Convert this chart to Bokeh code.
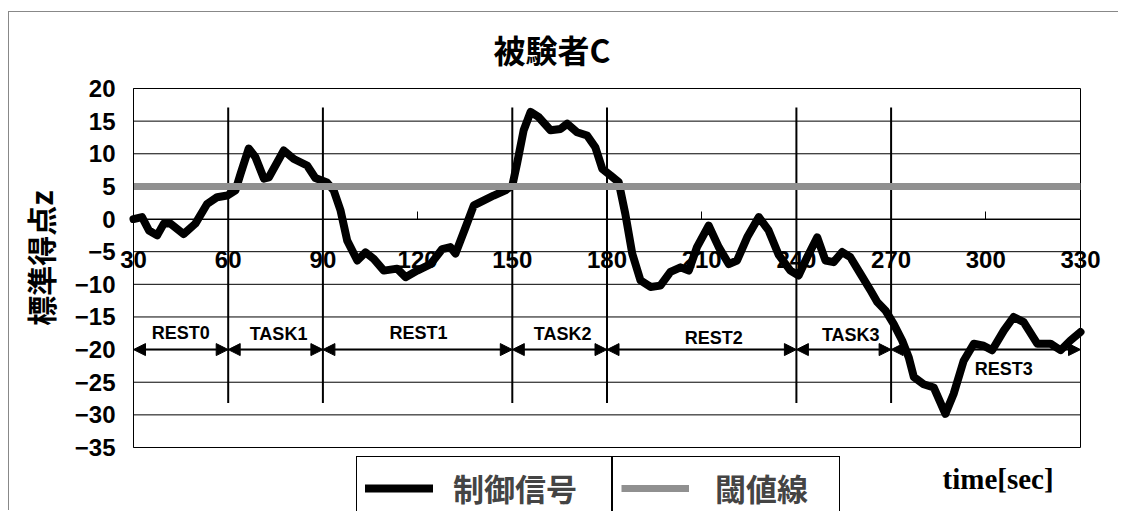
import math
from bokeh.plotting import figure
from bokeh.models import (FixedTicker, LinearAxis, Label, Legend, LegendItem,
                          Arrow, NormalHead, ColumnDataSource)
from bokeh.core.properties import value
from bokeh.embed import file_html
from bokeh.resources import INLINE

# ---------------- data ----------------
time_sec = [30, 32.7, 34.9, 37.5, 39.6, 41.7, 45.9, 49.6, 53.3, 56.5, 59.7, 62.3, 63.9,
            66.5, 68.6, 71.3, 72.9, 77.6, 80.8, 85.0, 87.6, 91.3, 93.4, 95.6, 97.7,
            100.9, 103.5, 106.1, 109.3, 113.5, 116.2, 119.9, 124.1, 127.8, 130.4, 132.0,
            135.2, 137.8, 141.0, 144.1, 147.8, 150.0, 151.5, 153.6, 155.8, 158.4, 162.1,
            165.3, 167.4, 170.5, 173.7, 176.3, 178.5, 181.1, 183.7, 185.8, 188.0, 190.6,
            193.8, 196.9, 200.1, 203.3, 205.9, 208.5, 212.2, 215.4, 218.6, 221.2, 224.4,
            228.1, 231.2, 234.4, 238.1, 240.7, 243.4, 246.6, 249.2, 251.8, 254.5, 257.1,
            260.3, 263.5, 265.6, 268.2, 270.8, 273.5, 275.6, 277.2, 280.3, 283.5, 287.2,
            289.8, 293.0, 296.2, 299.3, 302.0, 305.7, 308.8, 312.0, 316.3, 320.5, 323.7,
            326.8, 330]
control_signal = [0, 0.3, -1.75, -2.5, -0.7, -0.7, -2.3, -0.7, 2.3, 3.35, 3.6, 4.4, 6.9,
                  10.8, 9.5, 6.2, 6.4, 10.5, 9.2, 8.2, 6.3, 5.6, 4.4, 1.3, -3.3,
                  -6.35, -5.1, -6.1, -7.9, -7.6, -8.9, -7.9, -6.9, -4.6, -4.3, -5.3,
                  -1.25, 2.1, 2.85, 3.6, 4.4, 5.1, 8.5, 13.6, 16.4, 15.6, 13.6,
                  13.8, 14.6, 13.3, 12.8, 11.0, 7.7, 6.7, 5.65, 0.8, -5.3, -9.4,
                  -10.4, -10.2, -8.1, -7.4, -7.9, -4.3, -1.0, -4.3, -6.9, -6.35, -2.8,
                  0.3, -1.75, -5.5, -7.9, -8.65, -5.85, -2.8, -6.35, -6.6, -5.05, -5.85,
                  -8.4, -10.95, -12.7, -14.0, -16.05, -18.6, -21.2, -24.2, -25.3, -25.8, -29.85,
                  -26.8, -21.7, -19.1, -19.4, -20.1, -17.1, -15.0, -15.8, -19.1, -19.1, -20.1,
                  -18.6, -17.3]
threshold = 5

phase_names = ["REST0", "TASK1", "REST1", "TASK2", "REST2", "TASK3", "REST3"]
phase_start = [30, 60, 90, 150, 180, 240, 270]
phase_end = [60, 90, 150, 180, 240, 270, 330]
boundaries = [60, 90, 150, 180, 240, 270]

x_ticks = [30, 60, 90, 120, 150, 180, 210, 240, 270, 300, 330]
y_ticks = [-35, -30, -25, -20, -15, -10, -5, 0, 5, 10, 15, 20]

title_text = "被験者C"
y_title = "標準得点z"
x_title = "time[sec]"
legend_labels = ["制御信号", "閾値線"]

# ---------------- layout maths (pixel targets of the plot box) ----------------
W, H = 1110, 499            # canvas size
OX, OY = 9, 12              # canvas origin on the page (margin + border)
PX0, PX1 = 133 - OX, 1080 - OX   # x=30 / x=330 on canvas
PY0, PY1 = 88 - OY, 447 - OY     # y=20 / y=-35 on canvas
xmin, xmax = x_ticks[0], x_ticks[-1]
ymin, ymax = y_ticks[0], y_ticks[-1]
sx = (PX1 - PX0) / (xmax - xmin)
sy = (PY1 - PY0) / (ymax - ymin)
x_range = (xmin - PX0 / sx, xmax + (W - PX1) / sx)
y_range = (ymin - (H - PY1) / sy, ymax + PY0 / sy)

BOLD_NUM = "Liberation Sans"
CJK = "Noto Sans CJK JP"

p = figure(width=W, height=H, x_range=x_range, y_range=y_range,
           output_backend="svg", toolbar_location=None,
           x_axis_location=None, y_axis_location=None, min_border=0)
p.styles = {"margin-left": "8px", "margin-top": "11px",
            "border-top": "1px solid #888", "border-left": "1px solid #888"}
p.outline_line_color = None
p.xgrid.visible = False
p.ygrid.visible = False

# horizontal grid lines + plot box
p.segment(x0=xmin, x1=xmax, y0=y_ticks, y1=y_ticks, line_color="black", line_width=1)
p.segment(x0=[xmin, xmax], x1=[xmin, xmax], y0=ymin, y1=ymax, line_color="black", line_width=1)

# y axis at x=30
ya = LinearAxis(fixed_location=xmin, bounds=(ymin, ymax), ticker=FixedTicker(ticks=y_ticks),
                major_tick_in=0, major_tick_out=0, minor_tick_in=0, minor_tick_out=0,
                major_label_standoff=18, major_label_text_font=BOLD_NUM,
                major_label_text_font_style="bold", major_label_text_font_size="24px",
                major_label_text_color="black", axis_line_color="black")
ya.major_label_overrides = {t: (("\u2212" + str(abs(t))) if t < 0 else str(t)) for t in y_ticks}
p.add_layout(ya, "left")

# x axis crossing at 0
xa = LinearAxis(fixed_location=0, bounds=(xmin, xmax), ticker=FixedTicker(ticks=x_ticks),
                major_tick_in=8, major_tick_out=0, minor_tick_in=0, minor_tick_out=0,
                major_label_standoff=32, major_label_text_font=BOLD_NUM,
                major_label_text_font_style="bold", major_label_text_font_size="24px",
                major_label_text_color="black", axis_line_color="black")
p.add_layout(xa, "below")

# phase boundaries
p.segment(x0=boundaries, x1=boundaries, y0=17.1, y1=-28.2,
          line_color="black", line_width=2)

# phase arrows
for s, e in zip(phase_start, phase_end):
    p.add_layout(Arrow(x_start=s, y_start=-20, x_end=e, y_end=-20,
                       line_color="black", line_width=2,
                       start=NormalHead(size=12, fill_color="black", line_color="black"),
                       end=NormalHead(size=12, fill_color="black", line_color="black")))

mid = [(s + e) / 2 for s, e in zip(phase_start, phase_end)]
lab_src = ColumnDataSource(dict(
    x=mid, y=[-17.4, -17.6, -17.4, -17.6, -18.2, -17.8, -22.9],
    text=phase_names, dx=[0, 3, 1, 3, 12, 7, 18]))
p.text(x="x", y="y", text="text", x_offset="dx", source=lab_src,
       text_align="center", text_baseline="middle",
       text_font=value(BOLD_NUM), text_font_style="bold",
       text_font_size="18px", text_color="black")

# series
sig = p.line(time_sec, control_signal, line_color="black", line_width=8,
             line_join="round", line_cap="round")
thr = p.line([xmin, xmax], [threshold, threshold],
             line_color="#909090", line_width=7)

# title / axis titles
p.add_layout(Label(x=162.6, y=26.0, text=title_text, text_align="center",
                   text_baseline="middle", text_font=CJK, text_font_style="bold",
                   text_font_size="32px", text_color="black"))
p.add_layout(Label(x=0.5, y=-6.0, text=y_title, angle=math.pi / 2,
                   text_align="center", text_baseline="middle", text_font=CJK,
                   text_font_style="bold", text_font_size="30px", text_color="black"))
p.add_layout(Label(x=286.3, y=-39.9, text=x_title, text_align="left",
                   text_baseline="middle", text_font="Liberation Serif",
                   text_font_style="bold", text_font_size="29px", text_color="black"))

# legends (two boxes side by side)
common = dict(orientation="horizontal", padding=8, margin=0,
              border_line_color="black", border_line_width=1, border_line_alpha=1,
              background_fill_color="white", background_fill_alpha=1,
              label_text_font=CJK, label_text_font_style="bold",
              label_text_font_size="31px", glyph_width=68, glyph_height=20)
leg1 = Legend(items=[LegendItem(label=legend_labels[0], renderers=[sig])],
              location=(356 - OX, -8), label_standoff=20, label_width=150, **common)
leg2 = Legend(items=[LegendItem(label=legend_labels[1], renderers=[thr])],
              location=(612 - OX, -8), label_standoff=26, label_width=116, **common)
p.add_layout(leg1)
p.add_layout(leg2)

open("out.html", "w").write(file_html(p, INLINE))
